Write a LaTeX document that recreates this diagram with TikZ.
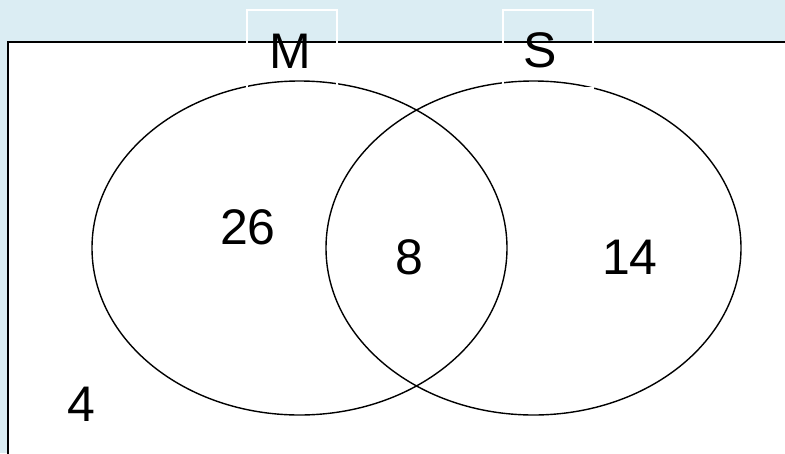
\documentclass[tikz,border=0pt]{standalone}
\usepackage{fontspec}
\setmainfont{Liberation Sans}
\definecolor{skyback}{HTML}{DBEDF3}
\tikzset{
  setring/.style={draw=black, line width=1.4pt},
  countlbl/.style={font=\fontsize{50}{50}\selectfont, inner sep=0pt},
  titlebox/.style={draw=white, line width=1.4pt, minimum width=90pt, minimum height=78pt, inner sep=0pt}
}
\begin{document}
\begin{tikzpicture}[x=1pt, y=-1pt]
			\useasboundingbox (0,0) rectangle (785,453);
			\fill[skyback] (0,0) rectangle (785,453);
			\filldraw[fill=white, draw=black, line width=1.6pt] (8,42) rectangle (790,460);
			\draw[setring] (299.5,248) ellipse (207.5 and 167);
			\draw[setring] (533.5,248) ellipse (207.5 and 167);
			\node[titlebox] (mbox) at (292,49) {};
			\node[titlebox] (sbox) at (548,49) {};
			\node[countlbl] (mname) at (290,51) {M};
			\node[countlbl] (sname) at (540,50) {S};
			\node[countlbl] (monly) at (248,227) {26};
			\node[countlbl] (both) at (409,257) {8};
			\node[countlbl] (sonly) at (630,257) {14};
			\node[countlbl] (neither) at (81,404) {4};
		\end{tikzpicture}
\end{document}
